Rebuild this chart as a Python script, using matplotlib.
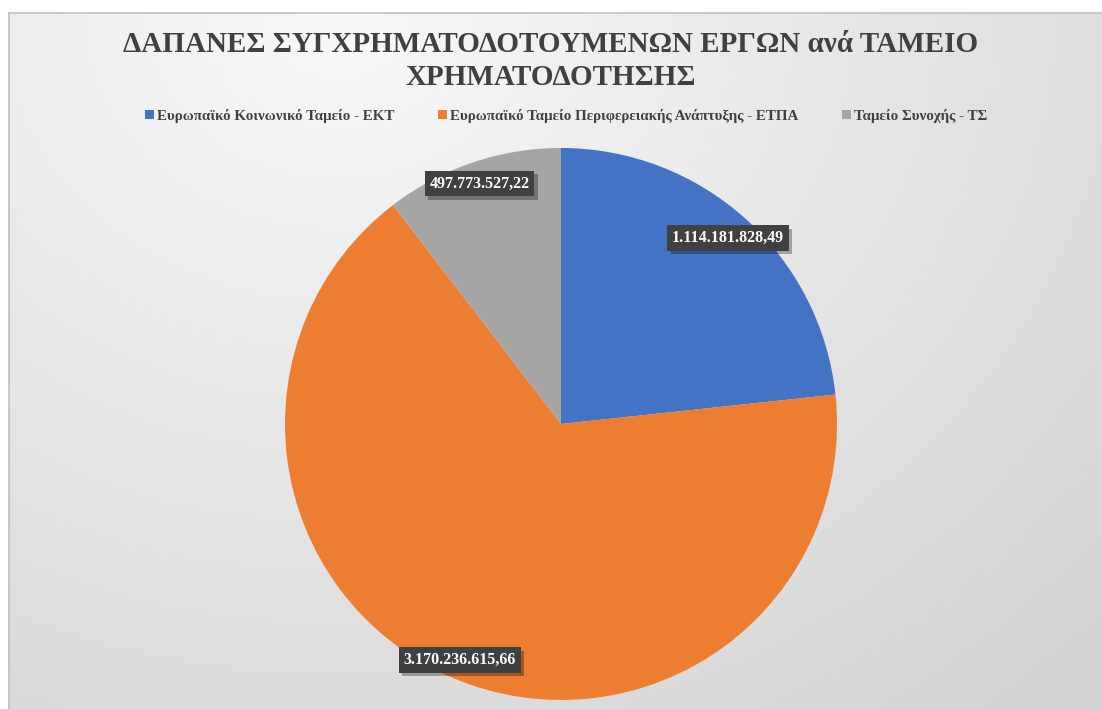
import numpy as np
import matplotlib
matplotlib.use("Agg")
import matplotlib.pyplot as plt
from matplotlib.patches import Patch
import matplotlib.patheffects as pe

# Data
categories = [
    "Ευρωπαϊκό Κοινωνικό Ταμείο - ΕΚΤ",
    "Ευρωπαϊκό Ταμείο Περιφερειακής Ανάπτυξης - ΕΤΠΑ",
    "Ταμείο Συνοχής - ΤΣ",
]
values = [1114181828.49, 3170236615.66, 497773527.22]
value_labels = ["1.114.181.828,49", "3.170.236.615,66", "497.773.527,22"]
colors = ["#4472C4", "#ED7D31", "#A5A5A5"]

TITLE = "ΔΑΠΑΝΕΣ ΣΥΓΧΡΗΜΑΤΟΔΟΤΟΥΜΕΝΩΝ ΕΡΓΩΝ ανά ΤΑΜΕΙΟ\nΧΡΗΜΑΤΟΔΟΤΗΣΗΣ"
TEXT_C = "#404040"
SERIF = ["Liberation Serif", "DejaVu Serif"]

W, H = 1102, 709
fig = plt.figure(figsize=(W / 100, H / 100), dpi=100)
fig.patch.set_facecolor("white")

# ── Background gradient of chart area ───────────────────────────────
x0, y_top = 9, 13
bg = fig.add_axes([x0 / W, 0, 1 - x0 / W, 1 - y_top / H])
bg.set_axis_off()
ny, nx = 200, 300
yy, xx = np.mgrid[0:ny, 0:nx]
d = np.sqrt(((xx - 90) / nx) ** 2 + ((yy) / ny * 0.75) ** 2)
d = np.clip(d / 0.95, 0, 1)
grey = 0.975 - 0.14 * d
img = np.dstack([grey, grey, grey])
bg.imshow(img, aspect="auto", extent=[0, 1, 0, 1], origin="upper")
bg.set_xlim(0, 1)
bg.set_ylim(0, 1)
# border lines (top, left)
fig.add_artist(plt.Line2D([x0 / W, 1], [1 - y_top / H] * 2, color="#BFBFBF", lw=1.2))
fig.add_artist(plt.Line2D([x0 / W] * 2, [0, 1 - y_top / H], color="#BFBFBF", lw=1.2))

# ── Pie ─────────────────────────────────────────────────────────────
cx, cy, r = 561, 424, 276
ax = fig.add_axes([(cx - r) / W, (H - cy - r) / H, 2 * r / W, 2 * r / H])
ax.set_axis_off()
wedges, _ = ax.pie(values, colors=colors, startangle=90, counterclock=False,
                   radius=1, wedgeprops=dict(linewidth=0))
ax.set_xlim(-1, 1)
ax.set_ylim(-1, 1)

label_r = [0.905, 0.93, 0.92]
for w, lab, lr in zip(wedges, value_labels, label_r):
    ang = np.deg2rad((w.theta1 + w.theta2) / 2)
    lx, ly = lr * np.cos(ang), lr * np.sin(ang)
    t = ax.text(lx, ly, lab, ha="center", va="center", fontsize=11.5,
                fontweight="bold", family=SERIF, color="white",
                bbox=dict(boxstyle="square,pad=0.3", fc="#404040", ec="none"))
    t.get_bbox_patch().set_path_effects([
        pe.SimplePatchShadow(offset=(2.5, -2.5), shadow_rgbFace="black", alpha=0.3),
        pe.Normal(),
    ])

# ── Title ───────────────────────────────────────────────────────────
fig.text(0.5, 1 - 61 / H, TITLE, ha="center", va="center", fontsize=21,
         fontweight="bold", family=SERIF, color=TEXT_C, linespacing=1.25)

# ── Legend ──────────────────────────────────────────────────────────
handles = [Patch(facecolor=c, edgecolor="none") for c in colors]
fig.legend(handles, categories, loc="center", bbox_to_anchor=(566 / W, 1 - 116 / H),
           ncol=3, frameon=False, prop=dict(family=SERIF, weight="bold", size=10.8),
           labelcolor=TEXT_C, handlelength=0.6, handleheight=0.6,
           handletextpad=0.2, columnspacing=2.9)

fig.savefig("out.png", dpi=100, facecolor=fig.get_facecolor())
